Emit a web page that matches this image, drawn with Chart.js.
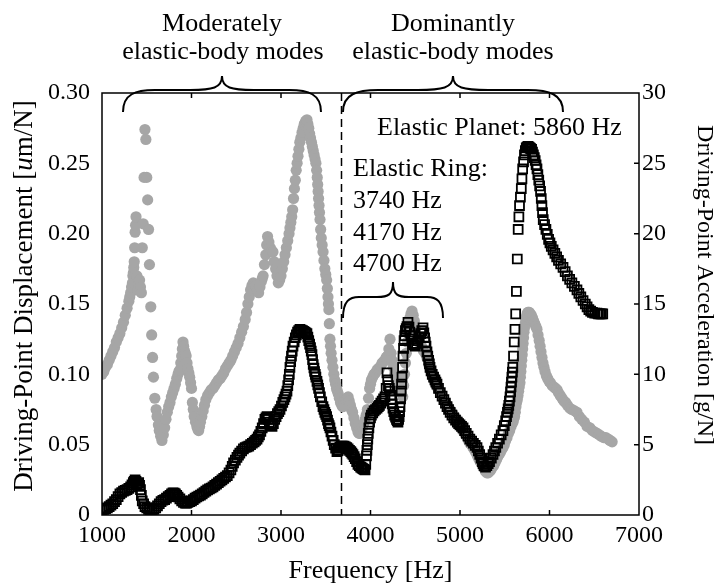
<!DOCTYPE html>
<html>
<head>
<meta charset="utf-8">
<script src="https://cdn.jsdelivr.net/npm/chart.js@4.4.1/dist/chart.umd.min.js"></script>
<style>
  html, body { margin: 0; padding: 0; background: #fff; }
  canvas { display: block; }
</style>
</head>
<body>
<canvas id="fig" width="716" height="586"></canvas>
<script>
// driving-point displacement (left axis, um/N)
const dispFreq = [1000,1020,1040,1060,1080,1100,1120,1140,1160,1180,1200,1220,1240,1260,1280,1300,1310,1320,1330,1340,1345,1350,1355,1360,1365,1370,1375,1380,1390,1400,1410,1420,1430,1440,1450,1460,1470,1480,1490,1500,1510,1520,1530,1545,1555,1565,1575,1590,1605,1615,1630,1640,1655,1670,1685,1700,1715,1730,1745,1760,1775,1790,1805,1820,1835,1850,1860,1870,1880,1890,1898,1905,1912,1920,1930,1940,1950,1960,1970,1980,1990,2000,2010,2020,2030,2045,2060,2070,2080,2090,2100,2115,2130,2145,2160,2180,2200,2220,2240,2260,2280,2300,2320,2340,2360,2380,2400,2420,2440,2460,2480,2500,2520,2540,2560,2580,2600,2615,2630,2645,2660,2675,2690,2705,2720,2735,2750,2765,2780,2790,2800,2815,2830,2840,2850,2865,2880,2895,2910,2925,2940,2955,2970,2985,3000,3015,3030,3045,3060,3075,3090,3100,3110,3120,3130,3140,3150,3160,3170,3180,3190,3200,3210,3222,3235,3248,3260,3275,3290,3300,3310,3320,3330,3340,3350,3360,3370,3380,3390,3398,3405,3410,3415,3420,3425,3430,3436,3443,3450,3460,3470,3480,3490,3500,3510,3518,3525,3530,3535,3540,3547,3553,3560,3570,3580,3590,3600,3610,3620,3630,3640,3652,3665,3678,3690,3705,3720,3735,3750,3762,3775,3788,3800,3815,3830,3845,3860,3872,3883,3897,3910,3925,3940,3952,3965,3978,3990,4000,4010,4025,4040,4055,4073,4085,4100,4115,4130,4145,4160,4175,4190,4205,4218,4230,4240,4255,4270,4285,4300,4315,4330,4345,4360,4370,4380,4390,4400,4410,4420,4430,4440,4452,4464,4477,4490,4505,4520,4535,4550,4570,4590,4610,4630,4650,4670,4690,4710,4727,4743,4760,4780,4800,4820,4840,4860,4880,4900,4920,4940,4955,4966,4983,5000,5020,5040,5060,5080,5095,5110,5128,5145,5163,5180,5195,5210,5225,5240,5255,5270,5285,5300,5315,5330,5345,5360,5375,5390,5405,5420,5435,5447,5463,5480,5495,5510,5525,5540,5555,5570,5582,5592,5600,5610,5618,5625,5632,5640,5648,5655,5662,5670,5675,5680,5685,5690,5695,5700,5705,5710,5715,5720,5728,5735,5742,5750,5758,5765,5775,5785,5797,5810,5822,5835,5848,5860,5872,5885,5895,5905,5916,5927,5938,5950,5965,5980,5995,6010,6030,6050,6067,6084,6100,6120,6140,6160,6180,6200,6225,6250,6280,6307,6333,6360,6390,6420,6450,6480,6505,6531,6555,6580,6605,6630,6655,6676,6700];
const dispVal = [0.100,0.102,0.105,0.107,0.110,0.113,0.116,0.119,0.123,0.126,0.129,0.133,0.137,0.142,0.147,0.152,0.155,0.158,0.162,0.165,0.170,0.172,0.176,0.180,0.190,0.201,0.206,0.212,0.170,0.160,0.165,0.167,0.162,0.158,0.190,0.207,0.240,0.274,0.267,0.240,0.224,0.203,0.178,0.148,0.128,0.112,0.098,0.083,0.075,0.070,0.064,0.060,0.056,0.053,0.057,0.062,0.068,0.073,0.077,0.080,0.084,0.087,0.090,0.093,0.097,0.100,0.102,0.103,0.108,0.113,0.118,0.123,0.120,0.117,0.115,0.113,0.108,0.104,0.101,0.098,0.094,0.090,0.080,0.075,0.070,0.066,0.063,0.061,0.060,0.063,0.066,0.070,0.074,0.078,0.082,0.085,0.087,0.089,0.090,0.092,0.094,0.096,0.097,0.099,0.101,0.104,0.106,0.108,0.110,0.113,0.116,0.119,0.122,0.126,0.130,0.134,0.139,0.144,0.150,0.155,0.160,0.163,0.165,0.164,0.163,0.160,0.158,0.162,0.166,0.168,0.170,0.178,0.185,0.192,0.198,0.194,0.190,0.188,0.187,0.180,0.175,0.170,0.165,0.167,0.170,0.175,0.180,0.185,0.190,0.195,0.200,0.204,0.208,0.212,0.217,0.225,0.232,0.238,0.245,0.250,0.255,0.260,0.265,0.268,0.272,0.275,0.278,0.280,0.281,0.278,0.275,0.271,0.268,0.265,0.262,0.259,0.256,0.253,0.250,0.245,0.240,0.235,0.230,0.225,0.220,0.215,0.210,0.203,0.197,0.192,0.187,0.181,0.175,0.171,0.167,0.161,0.155,0.150,0.146,0.136,0.125,0.120,0.115,0.110,0.105,0.100,0.096,0.093,0.090,0.088,0.086,0.083,0.080,0.078,0.077,0.080,0.082,0.083,0.084,0.081,0.078,0.075,0.073,0.069,0.065,0.062,0.059,0.058,0.058,0.060,0.062,0.065,0.068,0.071,0.075,0.083,0.090,0.093,0.096,0.098,0.100,0.101,0.103,0.104,0.104,0.106,0.108,0.109,0.110,0.112,0.113,0.118,0.125,0.115,0.110,0.105,0.100,0.097,0.095,0.092,0.090,0.087,0.084,0.092,0.100,0.108,0.115,0.123,0.130,0.135,0.140,0.143,0.145,0.142,0.138,0.132,0.127,0.124,0.122,0.120,0.117,0.115,0.112,0.107,0.103,0.099,0.096,0.093,0.091,0.089,0.087,0.085,0.082,0.080,0.078,0.076,0.074,0.072,0.070,0.069,0.068,0.066,0.064,0.061,0.059,0.057,0.055,0.053,0.051,0.050,0.048,0.046,0.044,0.042,0.040,0.038,0.036,0.034,0.033,0.031,0.030,0.030,0.031,0.032,0.034,0.035,0.037,0.039,0.041,0.043,0.044,0.046,0.048,0.050,0.053,0.055,0.058,0.060,0.063,0.065,0.066,0.068,0.070,0.073,0.077,0.080,0.082,0.085,0.088,0.091,0.094,0.098,0.102,0.106,0.110,0.114,0.118,0.122,0.126,0.130,0.133,0.136,0.139,0.141,0.143,0.144,0.144,0.144,0.143,0.142,0.140,0.138,0.136,0.134,0.132,0.128,0.124,0.120,0.116,0.112,0.108,0.105,0.102,0.099,0.097,0.095,0.094,0.092,0.091,0.090,0.089,0.087,0.085,0.083,0.081,0.080,0.078,0.076,0.075,0.074,0.073,0.070,0.068,0.066,0.063,0.062,0.060,0.059,0.058,0.057,0.056,0.055,0.055,0.054,0.053,0.052];

// driving-point acceleration (right axis, g/N)
const accFreq = [1000,1020,1040,1060,1080,1100,1120,1140,1160,1180,1200,1220,1240,1260,1280,1300,1320,1335,1350,1360,1370,1380,1390,1400,1410,1420,1430,1440,1450,1465,1480,1500,1520,1540,1560,1580,1600,1620,1640,1660,1680,1700,1720,1740,1760,1777,1793,1807,1820,1835,1850,1870,1890,1910,1930,1945,1960,1980,2000,2020,2040,2060,2080,2100,2120,2140,2160,2180,2200,2220,2240,2260,2280,2300,2320,2340,2360,2380,2400,2420,2440,2455,2470,2490,2508,2525,2540,2560,2580,2600,2620,2640,2660,2680,2700,2716,2732,2746,2760,2775,2790,2805,2820,2832,2844,2857,2870,2885,2900,2915,2930,2945,2960,2975,2989,3005,3020,3033,3045,3056,3067,3076,3085,3093,3100,3108,3117,3125,3134,3147,3160,3172,3185,3198,3212,3226,3240,3252,3265,3278,3290,3300,3310,3320,3330,3338,3346,3353,3360,3368,3375,3383,3390,3402,3411,3420,3430,3440,3455,3469,3480,3490,3500,3510,3520,3530,3538,3547,3558,3570,3583,3595,3610,3625,3632,3640,3650,3659,3675,3690,3705,3720,3735,3750,3765,3780,3792,3804,3817,3830,3845,3860,3875,3890,3903,3915,3927,3939,3947,3955,3960,3965,3970,3975,3982,3990,4000,4010,4025,4040,4056,4073,4087,4100,4115,4130,4146,4162,4175,4184,4192,4200,4210,4218,4227,4235,4243,4251,4260,4270,4280,4290,4299,4307,4314,4320,4325,4330,4336,4342,4347,4352,4358,4363,4369,4375,4382,4390,4399,4408,4419,4430,4440,4450,4460,4475,4487,4500,4515,4530,4545,4560,4573,4587,4596,4605,4612,4620,4631,4640,4650,4658,4665,4677,4690,4705,4720,4731,4743,4760,4780,4800,4820,4837,4855,4872,4890,4910,4930,4950,4970,4985,5000,5017,5034,5052,5070,5090,5110,5130,5150,5170,5190,5205,5220,5235,5250,5260,5270,5285,5300,5315,5330,5350,5369,5385,5400,5420,5440,5460,5480,5495,5510,5520,5530,5538,5545,5552,5559,5565,5570,5575,5580,5585,5590,5598,5606,5614,5622,5630,5640,5650,5658,5665,5675,5685,5692,5700,5710,5720,5730,5740,5750,5760,5770,5780,5790,5800,5810,5820,5830,5840,5850,5860,5870,5880,5890,5900,5908,5915,5922,5930,5945,5960,5975,5990,6005,6020,6040,6060,6080,6100,6125,6151,6175,6200,6225,6250,6278,6307,6328,6350,6375,6400,6420,6440,6460,6480,6505,6530,6547,6564,6580,6595];
const accVal = [0.35,0.4,0.45,0.5,0.6,0.7,0.8,0.95,1.1,1.3,1.5,1.6,1.7,1.75,1.8,1.9,2.0,2.15,2.3,2.4,2.5,2.4,2.2,2.25,2.3,2.1,1.8,1.4,1.0,0.8,0.6,0.5,0.4,0.37,0.35,0.4,0.5,0.65,0.8,0.95,1.05,1.1,1.2,1.3,1.4,1.5,1.57,1.55,1.5,1.4,1.28,1.15,1.0,0.9,0.85,0.85,0.9,0.95,1.0,1.1,1.2,1.28,1.35,1.42,1.5,1.6,1.7,1.78,1.85,1.92,2.0,2.1,2.2,2.3,2.4,2.5,2.6,2.7,2.8,3.0,3.2,3.45,3.7,3.9,4.1,4.25,4.4,4.55,4.7,4.8,4.85,4.9,5.0,5.1,5.2,5.3,5.4,5.55,5.7,5.95,6.2,6.5,6.8,6.9,7.0,6.8,6.6,6.4,6.3,6.5,6.8,7.0,7.2,7.35,7.5,7.75,8.0,8.2,8.4,8.6,8.8,9.2,9.6,10.0,10.5,10.9,11.3,11.65,12.0,12.3,12.6,12.8,13.0,13.1,13.2,13.15,13.1,13.05,13.0,12.95,12.9,12.65,12.4,12.15,11.9,11.65,11.4,11.05,10.7,10.45,10.2,10.0,9.8,9.5,9.25,9.0,8.7,8.4,8.05,7.7,7.5,7.3,7.15,7.0,6.75,6.5,6.35,6.2,5.9,5.6,5.3,5.0,4.75,4.5,4.55,4.6,4.75,4.85,4.9,4.9,4.9,4.85,4.8,4.7,4.6,4.5,4.4,4.3,4.15,4.0,3.8,3.6,3.5,3.4,3.35,3.3,3.25,3.2,3.6,4.2,4.6,5.0,5.4,5.8,6.2,6.6,6.9,7.1,7.25,7.4,7.5,7.6,7.7,7.8,7.95,8.1,8.25,8.4,9.0,10.1,9.6,9.2,9.0,8.8,8.5,8.2,7.9,7.6,7.35,7.1,6.95,6.8,6.7,6.6,6.8,7.0,7.35,7.7,8.25,8.8,9.3,9.8,10.5,11.3,11.85,12.4,12.75,13.1,13.25,13.4,13.7,13.35,13.0,12.75,12.5,12.2,12.1,12.0,12.2,12.4,12.65,12.9,13.1,13.3,12.95,12.6,12.3,12.0,11.6,11.3,11.0,10.75,10.5,10.25,10.0,9.8,9.6,9.45,9.3,9.0,8.7,8.45,8.2,7.95,7.7,7.5,7.3,7.1,6.9,6.75,6.6,6.5,6.4,6.3,6.2,6.0,5.8,5.6,5.4,5.25,5.1,4.95,4.8,4.55,4.3,4.05,3.8,3.65,3.5,3.4,3.5,3.65,3.8,4.05,4.3,4.55,4.8,5.1,5.4,5.7,6.0,6.35,6.7,7.0,7.3,7.55,7.8,8.1,8.4,8.75,9.1,9.45,9.8,10.15,10.5,11.3,12.3,13.2,14.3,15.9,18.2,20.3,21.2,22.0,22.6,23.2,23.9,24.6,25.1,25.6,25.9,26.1,26.15,26.2,26.15,26.1,26.05,26.0,25.8,25.6,25.4,25.2,24.9,24.6,24.2,23.8,23.4,23.0,22.5,22.0,21.5,21.0,20.65,20.3,19.95,19.6,19.35,19.1,18.85,18.6,18.35,18.1,17.85,17.6,17.3,17.0,16.75,16.5,16.25,16.0,15.75,15.5,15.25,15.0,14.8,14.6,14.5,14.4,14.35,14.35,14.3,14.3,14.3,14.3];

const freqTicks = [1000, 2000, 3000, 4000, 5000, 6000, 7000];
const dispTicks = [0, 0.05, 0.10, 0.15, 0.20, 0.25, 0.30];
const accTicks = [0, 5, 10, 15, 20, 25, 30];
const splitFreq = 3675; // boundary between the two mode groups

const SERIF = '"Liberation Serif", "Times New Roman", serif';
Chart.defaults.font.family = SERIF;
Chart.defaults.color = '#000';

function pairs(xs, ys) {
  return xs.map((x, i) => ({ x: x, y: ys[i] }));
}

// curly brace opening downward, tip pointing up
function brace(ctx, x1, x2, yEnd, yMid, yTip) {
  const xm = (x1 + x2) / 2;
  const r = (x2 - x1) * 0.16;
  ctx.beginPath();
  ctx.moveTo(x1, yEnd);
  ctx.bezierCurveTo(x1, yMid + 4, x1 + r * 0.4, yMid, x1 + r, yMid);
  ctx.lineTo(xm - r, yMid);
  ctx.bezierCurveTo(xm - r * 0.3, yMid, xm, yMid - 2, xm, yTip);
  ctx.bezierCurveTo(xm, yMid - 2, xm + r * 0.3, yMid, xm + r, yMid);
  ctx.lineTo(x2 - r, yMid);
  ctx.bezierCurveTo(x2 - r * 0.4, yMid, x2, yMid + 4, x2, yEnd);
  ctx.stroke();
}

const splitLine = {
  id: 'splitLine',
  beforeDatasetsDraw(chart) {
    const { ctx, chartArea: a } = chart;
    const x = Math.round(chart.scales.x.getPixelForValue(splitFreq)) + 0.5;
    ctx.save();
    ctx.strokeStyle = '#000';
    ctx.lineWidth = 1.5;
    ctx.setLineDash([8, 5]);
    ctx.beginPath();
    ctx.moveTo(x, a.top);
    ctx.lineTo(x, a.bottom);
    ctx.stroke();
    ctx.restore();
  }
};

const frame = {
  id: 'frame',
  afterDraw(chart) {
    const { ctx, chartArea: a } = chart;
    const sx = chart.scales.x, sy2 = chart.scales.y2;
    ctx.save();
    ctx.strokeStyle = '#000';
    ctx.lineWidth = 1.5;
    ctx.strokeRect(a.left, a.top, a.right - a.left, a.bottom - a.top);
    ctx.beginPath();
    freqTicks.slice(1, -1).forEach(f => {
      const x = sx.getPixelForValue(f);
      ctx.moveTo(x, a.bottom); ctx.lineTo(x, a.bottom - 5);
      ctx.moveTo(x, a.top); ctx.lineTo(x, a.top + 5);
    });
    accTicks.slice(1, -1).forEach(v => {
      const y = sy2.getPixelForValue(v);
      ctx.moveTo(a.right, y); ctx.lineTo(a.right - 5, y);
    });
    ctx.stroke();

    // axis titles
    ctx.fillStyle = '#000';
    ctx.textBaseline = 'middle';
    ctx.textAlign = 'center';
    ctx.font = '26px ' + SERIF;
    ctx.fillText('Frequency [Hz]', (a.left + a.right) / 2, 571);

    ctx.save();
    ctx.translate(25, 296);
    ctx.rotate(-Math.PI / 2);
    const pre = 'Driving-Point Displacement [', mid = 'u', post = 'm/N]';
    const f = '27px ' + SERIF, fi = 'italic 27px ' + SERIF;
    ctx.font = f;
    const w1 = ctx.measureText(pre).width, w3 = ctx.measureText(post).width;
    ctx.font = fi;
    const w2 = ctx.measureText(mid).width;
    const x0 = -(w1 + w2 + w3) / 2;
    ctx.textAlign = 'left';
    ctx.font = f;
    ctx.fillText(pre, x0, 0);
    ctx.font = fi;
    ctx.fillText(mid, x0 + w1, 0);
    ctx.font = f;
    ctx.fillText(post, x0 + w1 + w2, 0);
    ctx.restore();

    ctx.save();
    ctx.translate(704, 285);
    ctx.rotate(Math.PI / 2);
    ctx.font = '24px ' + SERIF;
    ctx.fillText('Driving-Point Acceleration [g/N]', 0, 0);
    ctx.restore();

    // mode group labels and braces
    ctx.lineWidth = 2;
    ctx.textBaseline = 'alphabetic';
    ctx.textAlign = 'center';
    ctx.font = '26px ' + SERIF;
    ctx.fillText('Moderately', 222, 31);
    ctx.fillText('elastic-body modes', 223, 59);
    ctx.fillText('Dominantly', 453, 31);
    ctx.fillText('elastic-body modes', 453, 59);
    brace(ctx, 123, 321, 112, 90, 76);
    brace(ctx, 343, 563, 112, 90, 76);

    ctx.textAlign = 'left';
    ctx.fillText('Elastic Planet: 5860 Hz', 377, 135);
    ctx.fillText('Elastic Ring:', 353, 176);
    ctx.fillText('3740 Hz', 353, 208);
    ctx.fillText('4170 Hz', 353, 240);
    ctx.fillText('4700 Hz', 353, 271);
    brace(ctx, 343, 443, 318, 297, 282);
    ctx.restore();
  }
};

new Chart(document.getElementById('fig'), {
  type: 'scatter',
  data: {
    datasets: [
      {
        label: 'Acceleration',
        data: pairs(accFreq, accVal),
        yAxisID: 'y2',
        pointStyle: 'rect',
        pointRadius: 6.3,
        borderColor: '#000',
        borderWidth: 1.8,
        backgroundColor: 'rgba(0,0,0,0)'
      },
      {
        label: 'Displacement',
        data: pairs(dispFreq, dispVal),
        yAxisID: 'y',
        pointStyle: 'circle',
        pointRadius: 5.6,
        borderWidth: 0,
        backgroundColor: '#a6a6a6'
      }
    ]
  },
  options: {
    responsive: false,
    animation: false,
    devicePixelRatio: 1,
    events: [],
    layout: { padding: { top: 93, left: 0, right: 0, bottom: 0 } },
    plugins: { legend: { display: false }, tooltip: { enabled: false } },
    scales: {
      x: {
        type: 'linear', min: 1000, max: 7000,
        afterBuildTicks: s => { s.ticks = freqTicks.map(v => ({ value: v })); },
        afterFit: s => { s.height = 71; },
        grid: { display: false, drawTicks: false },
        border: { display: false },
        ticks: { font: { size: 24 }, padding: 6, maxRotation: 0, callback: v => String(v) }
      },
      y: {
        position: 'left', min: 0, max: 0.3,
        afterBuildTicks: s => { s.ticks = dispTicks.map(v => ({ value: v })); },
        afterFit: s => { s.width = 102; },
        grid: { display: false, drawTicks: false },
        border: { display: false },
        ticks: { font: { size: 24 }, padding: 12, callback: v => v === 0 ? '0' : v.toFixed(2) }
      },
      y2: {
        position: 'right', min: 0, max: 30,
        afterBuildTicks: s => { s.ticks = accTicks.map(v => ({ value: v })); },
        afterFit: s => { s.width = 77; },
        grid: { display: false, drawTicks: false },
        border: { display: false },
        ticks: { font: { size: 24 }, padding: 3, callback: v => String(v) }
      }
    }
  },
  plugins: [splitLine, frame]
});
</script>
</body>
</html>
